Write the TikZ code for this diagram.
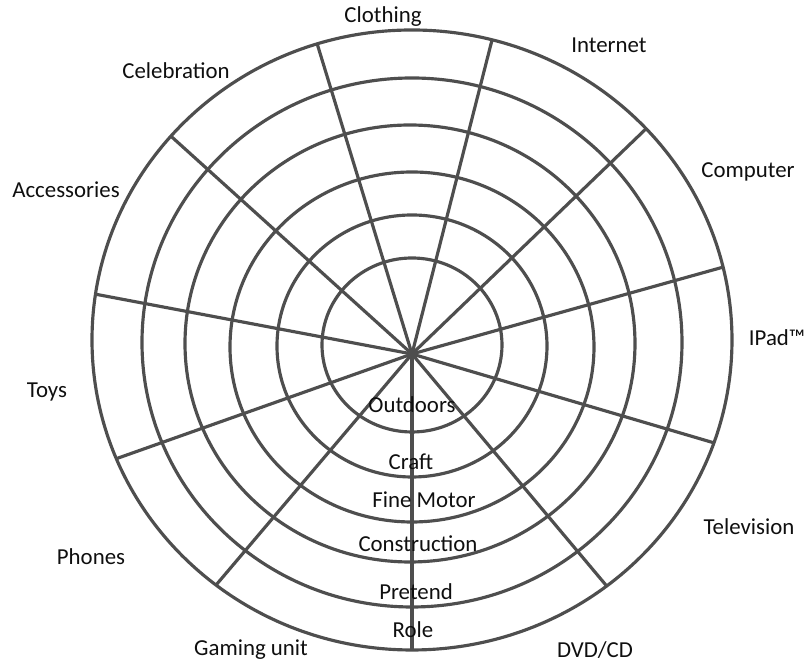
\documentclass[tikz,border=0pt]{standalone}
\usepackage{fontspec}
\setmainfont{Carlito}
\usepackage{xcolor}
\usepackage{tikz}
\usetikzlibrary{positioning}
\definecolor{cgrid}{RGB}{78,78,78}
\definecolor{ctext}{RGB}{15,15,15}

\begin{document}
\begin{tikzpicture}[
  font=\fontsize{6.5}{7.5}\selectfont,
  ring/.style={draw=cgrid,line width=0.9pt},
  spoke/.style={draw=cgrid,line width=0.9pt},
  cat/.style={inner sep=0pt,color=ctext},
  lvl/.style={inner sep=0pt,color=ctext},
]
\useasboundingbox (0,0) rectangle (8.07,6.64);

% =========== rings, outermost first (centre, x radius, y radius) ===========
\foreach \cx/\cy/\rx/\ry [count=\i] in {4.12/3.24/3.20/3.10, 4.12/3.215/2.70/2.645,
    4.10/3.205/2.25/2.185, 4.12/3.17/1.82/1.75, 4.12/3.18/1.35/1.31, 4.12/3.19/0.90/0.87}{
  \draw[ring] (\cx,\cy) ellipse [x radius=\rx cm, y radius=\ry cm];
}

% =========== eleven spokes from the hub, cut off at the outer ring ==========
\coordinate (hub) at (4.12,3.10);
\begin{scope}
  \clip (4.12,3.24) ellipse [x radius=3.20cm, y radius=3.10cm];
  \foreach \a in {107,75.7,43.9,15.6,-16.4,-50,-90,-130.3,199.5,169.3,137.9}{
    \draw[spoke] (hub) -- ++(\a:4);
  }
\end{scope}

% =========== categories round the rim =====================================
\node[cat] (clothing) at (3.83,6.47) {Clothing};
\node[cat] (internet) at (6.09,6.19) {Internet};
\node[cat] (computer) at (7.48,4.92) {Computer};
\node[cat] (ipad)     at (7.77,3.26) {IPad™};
\node[cat] (tv)       at (7.49,1.37) {Television};
\node[cat] (dvd)      at (5.95,0.14) {DVD/CD};
\node[cat] (gaming)   at (2.51,0.14) {Gaming unit};
\node[cat] (phones)   at (0.91,1.07) {Phones};
\node[cat] (toys)     at (0.47,2.72) {Toys};
\node[cat] (access)   at (0.66,4.74) {Accessories};
\node[cat] (celeb)    at (1.76,5.93) {Celebration};

% =========== play types, one per ring, down the bottom spoke ===============
\node[lvl] (outdoors) at (4.12,2.59) {Outdoors};
\node[lvl] (craft)    at (4.11,2.02) {Craft};
\node[lvl] (fine)     at (4.24,1.64) {Fine Motor};
\node[lvl] (constr)   at (4.18,1.20) {Construction};
\node[lvl] (pretend)  at (4.16,0.72) {Pretend};
\node[lvl] (role)     at (4.13,0.34) {Role};

\end{tikzpicture}
\end{document}
